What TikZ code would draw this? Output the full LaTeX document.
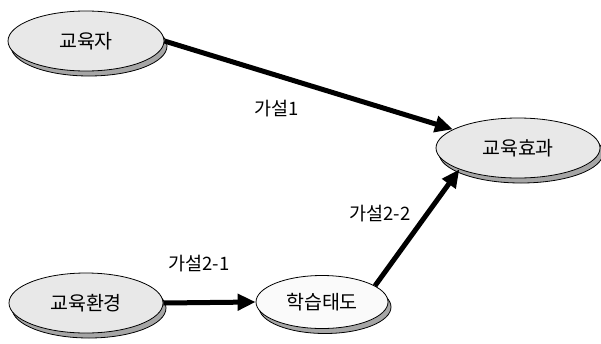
\documentclass[tikz,border=0pt]{standalone}
\usepackage{fontspec}
\setmainfont{Noto Sans CJK KR}
\usepackage{tikz}
\usetikzlibrary{shapes.geometric}
\usetikzlibrary{shadows}
\usetikzlibrary{arrows.meta}
\tikzset{
    factor/.style={
        ellipse,
        draw,
        thick,
        fill=gray!18,
        minimum width=#1,
        minimum height=60pt,
        inner sep=0pt,
        font=\fontsize{19.5}{22}\selectfont,
        drop shadow={shadow xshift=3pt, shadow yshift=-5pt, fill=gray!70, draw=black, opacity=1}
    },
    factor/.default=155pt,
    plain factor/.style={
        factor=#1,
        minimum height=53pt,
        fill=gray!4
    },
    hyp/.style={
        line width=5pt,
        -{Triangle[length=18pt,width=16pt]}
    },
    hyplabel/.style={
        font=\fontsize{18.5}{21}\selectfont
    }
}
\newcommand{\factor}[5] {
	\node[#5=#4] (#1) at (#2) {#3};
}

\begin{document}
\begin{tikzpicture}[x=1pt,y=-1pt]
		\useasboundingbox (0,0) rectangle (601,343);

		% factors
		\factor{educator}{86,41}{교육자}{156pt}{factor}
		\factor{effect}{518,148}{교육효과}{164pt}{factor}
		\factor{environment}{86,303}{교육환경}{154pt}{factor}
		\factor{attitude}{322,302}{학습태도}{132pt}{plain factor}

		% hypotheses
		\draw[hyp] (educator.east) -- (effect.164);
		\draw[hyp] (environment.east) -- (attitude.west);
		\draw[hyp] (attitude.17) -- (effect.200);

		\node[hyplabel] (h1) at (277,109) {가설1};
		\node[hyplabel] (h21) at (199,264) {가설2-1};
		\node[hyplabel] (h22) at (380,214) {가설2-2};

	\end{tikzpicture}
\end{document}
